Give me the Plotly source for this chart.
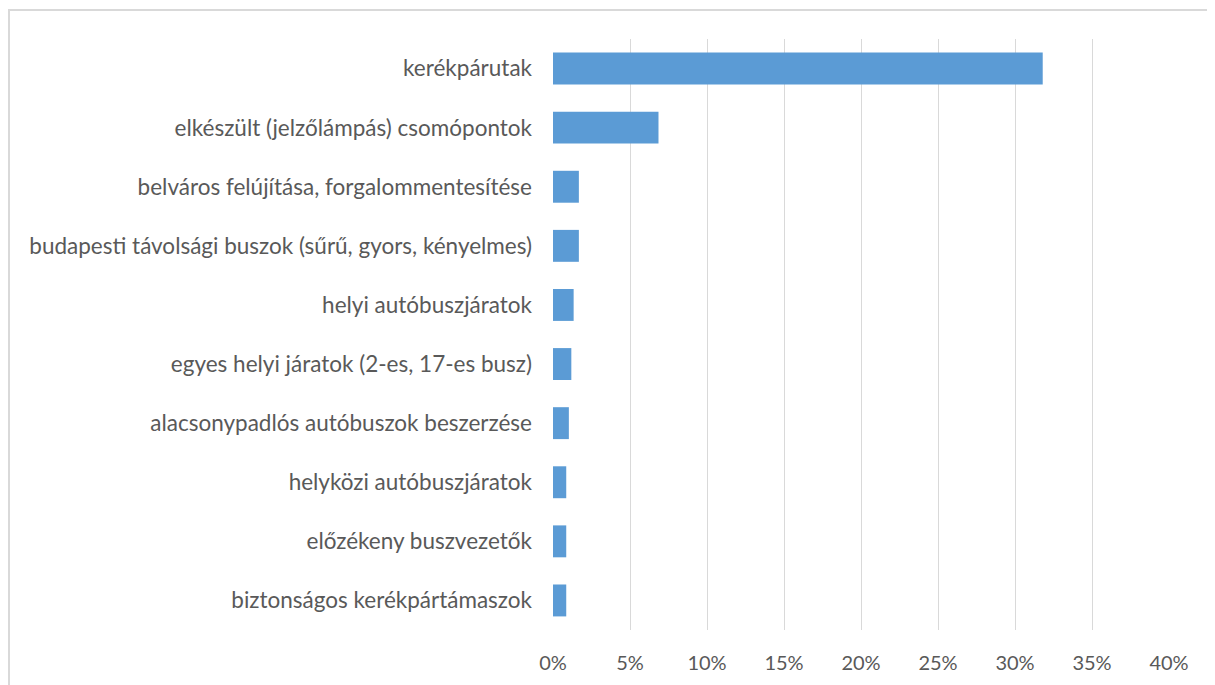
import plotly.graph_objects as go

categories = [
    "kerékpárutak",
    "elkészült (jelzőlámpás) csomópontok",
    "belváros felújítása, forgalommentesítése",
    "budapesti távolsági buszok (sűrű, gyors, kényelmes)",
    "helyi autóbuszjáratok",
    "egyes helyi járatok (2-es, 17-es busz)",
    "alacsonypadlós autóbuszok beszerzése",
    "helyközi autóbuszjáratok",
    "előzékeny buszvezetők",
    "biztonságos kerékpártámaszok",
]
values = [31.8, 6.85, 1.68, 1.68, 1.34, 1.19, 1.03, 0.86, 0.86, 0.86]
x_ticks = [0, 5, 10, 15, 20, 25, 30, 35, 40]
x_tick_labels = [f"{t}%" for t in x_ticks]

fig = go.Figure(go.Bar(
    y=categories,
    x=values,
    orientation="h",
    marker=dict(color="#5b9bd5", line=dict(width=0)),
    width=0.54,
))

# page has an 8px body margin; figure coords = page coords - 8
W, H = 1207, 677
L, R, T, B = 545, 1161, 31, 622
pw, ph = R - L, B - T

def px(x):
    return (x - L) / pw

def py(y):
    return (B - y) / ph

FONT = "Lato, Open Sans, sans-serif"

fig.update_layout(
    width=W, height=H,
    margin=dict(l=L, r=W - R, t=T, b=H - B, autoexpand=False),
    paper_bgcolor="white",
    plot_bgcolor="white",
    font=dict(family=FONT, size=20, color="#595959"),
    showlegend=False,
    xaxis=dict(
        range=[0, 40],
        tickvals=x_ticks,
        ticktext=x_tick_labels,
        showgrid=True,
        gridcolor="#d9d9d9",
        gridwidth=1,
        zeroline=False,
        showline=False,
        ticks="",
        ticklabelstandoff=19,
        tickfont=dict(family=FONT, size=20, color="#595959"),
    ),
    yaxis=dict(
        categoryorder="array",
        categoryarray=categories[::-1],
        autorange=False,
        range=[-0.5, 9.5],
        showgrid=False,
        zeroline=False,
        showline=False,
        ticks="",
        ticklabelstandoff=20,
        tickfont=dict(family=FONT, size=22.5, color="#595959"),
    ),
    shapes=[
        dict(type="rect", xref="paper", yref="paper",
             x0=px(1), x1=px(1220), y0=py(690), y1=py(2),
             line=dict(color="#d9d9d9", width=2), fillcolor="rgba(0,0,0,0)",
             layer="below"),
    ],
)

fig.write_html("out.html")
